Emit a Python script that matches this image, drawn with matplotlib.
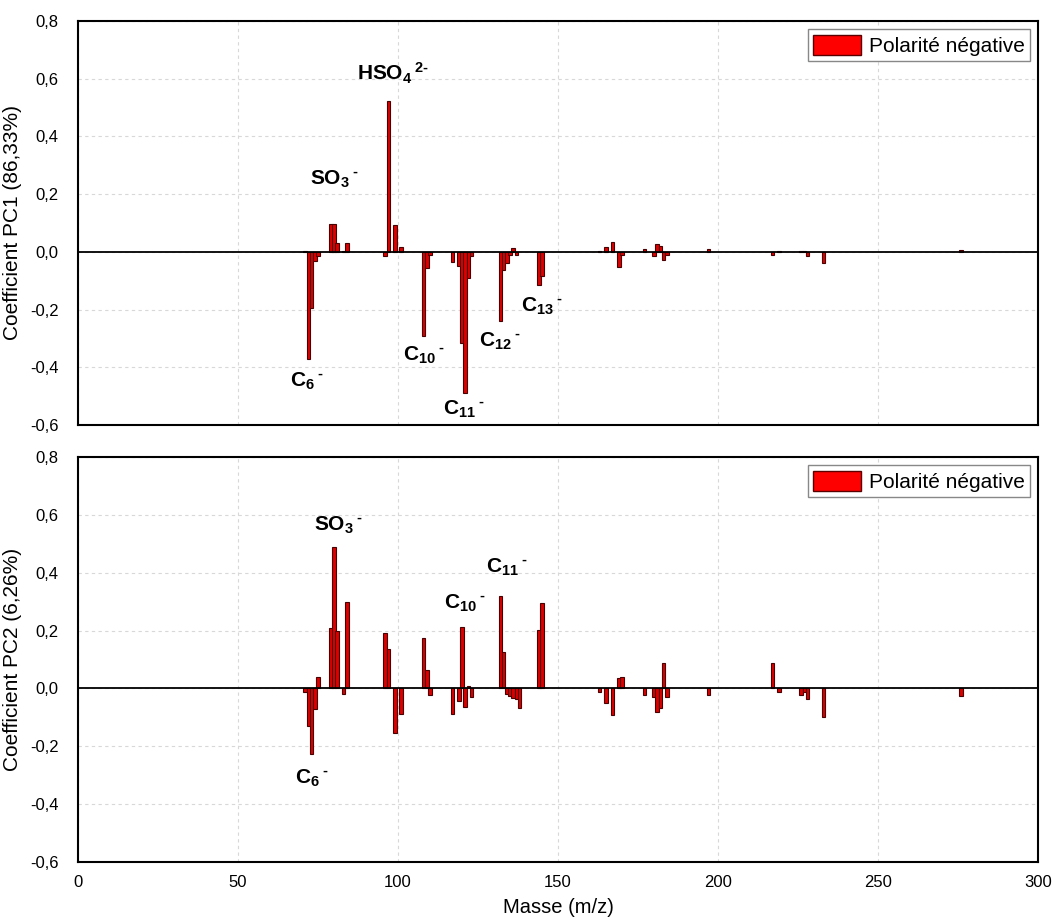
import numpy as np
import matplotlib
matplotlib.use("Agg")
import matplotlib.pyplot as plt
from matplotlib.ticker import MultipleLocator, FuncFormatter
from matplotlib.patches import Patch

plt.rcParams['font.family'] = ['Liberation Sans', 'DejaVu Sans']
plt.rcParams['mathtext.fontset'] = 'custom'
plt.rcParams['mathtext.bf'] = 'Liberation Sans:bold'
plt.rcParams['mathtext.rm'] = 'Liberation Sans:bold'
plt.rcParams['mathtext.default'] = 'bf'

# PC1 loadings (negative polarity)
mz1 = [71, 72, 73, 74, 75, 79, 80, 81, 83, 84, 96, 97, 99, 101,
       108, 109, 110, 117, 119, 120, 121, 122, 123,
       132, 133, 134, 135, 136, 137, 144, 145,
       163, 165, 167, 169, 170, 177, 180, 181, 182, 183, 184,
       197, 217, 219, 226, 227, 228, 233, 276]
pc1 = [0.003, -0.372, -0.196, -0.031, -0.013, 0.096, 0.096, 0.030, 0.003, 0.030,
       -0.016, 0.523, 0.094, 0.016,
       -0.292, -0.055, -0.010, -0.036, -0.050, -0.315, -0.488, -0.092, -0.016,
       -0.240, -0.064, -0.040, -0.012, 0.013, -0.012, -0.114, -0.082,
       0.002, 0.018, 0.034, -0.051, -0.010, 0.010, -0.015, 0.028, 0.020, -0.028, -0.012,
       0.010, -0.012, 0.002, 0.003, 0.003, -0.014, -0.040, 0.006]

# PC2 loadings
mz2 = [71, 72, 73, 74, 75, 79, 80, 81, 83, 84, 96, 97, 99, 101,
       108, 109, 110, 117, 119, 120, 121, 122, 123,
       132, 133, 134, 135, 136, 137, 138, 144, 145,
       163, 165, 167, 169, 170, 177, 180, 181, 182, 183, 184,
       197, 217, 219, 226, 227, 228, 233, 276]
pc2 = [-0.014, -0.129, -0.225, -0.072, 0.038, 0.208, 0.490, 0.198, -0.018, 0.298,
       0.190, 0.138, -0.154, -0.087,
       0.173, 0.063, -0.021, -0.087, -0.043, 0.212, -0.065, 0.009, -0.030,
       0.319, 0.127, -0.018, -0.027, -0.033, -0.038, -0.069, 0.202, 0.294,
       -0.012, -0.052, -0.092, 0.036, 0.039, -0.023, -0.029, -0.081, -0.069, 0.088, -0.031,
       -0.023, 0.089, -0.012, -0.022, -0.012, -0.038, -0.098, -0.027]

HY = '\u2010'  # short hyphen for the charge sign

def ion(base, sub, charge):
    return base + '$_{' + sub + '}\\,$$^{' + charge + '}$'

# peak labels: (text, m/z, value)
labels1 = [(ion('HSO', '4', '2' + HY), 98.5, 0.62),
           (ion('SO', '3', HY), 80.0, 0.25),
           (ion('C', '6', HY), 71.5, -0.45),
           (ion('C', '10', HY), 108.0, -0.36),
           (ion('C', '11', HY), 120.5, -0.545),
           (ion('C', '12', HY), 132.0, -0.31),
           (ion('C', '13', HY), 145.0, -0.19)]
labels2 = [(ion('SO', '3', HY), 81.5, 0.565),
           (ion('C', '6', HY), 73.0, -0.31),
           (ion('C', '10', HY), 121.0, 0.295),
           (ion('C', '11', HY), 134.0, 0.42)]

ylabels = ['Coefficient PC1 (86,33%)', 'Coefficient PC2 (6,26%)']

W, H = 1054, 922
fig = plt.figure(figsize=(W / 100, H / 100), dpi=100)
ax1 = fig.add_axes([78 / W, 1 - 425 / H, 960 / W, 404 / H])
ax2 = fig.add_axes([78 / W, 1 - 862 / H, 960 / W, 405 / H])

bar_fc = '#dc0000'
bar_ec = '#4a0000'

def comma(v, pos):
    v = round(v, 1) + 0.0
    return f'{v:.1f}'.replace('.', ',')

for ax, mz, vals, labs, yl in [(ax1, mz1, pc1, labels1, ylabels[0]),
                                (ax2, mz2, pc2, labels2, ylabels[1])]:
    ax.bar(mz, vals, width=1.15, color=bar_fc, edgecolor=bar_ec, linewidth=0.8, zorder=2)
    ax.axhline(0, color='black', lw=1.3, zorder=3)
    ax.set_xlim(0, 300)
    ax.set_ylim(-0.6, 0.8)
    ax.xaxis.set_major_locator(MultipleLocator(50))
    ax.yaxis.set_major_locator(MultipleLocator(0.2))
    ax.yaxis.set_major_formatter(FuncFormatter(comma))
    ax.grid(True, color='#d8d8d8', linestyle=(0, (3, 3)), linewidth=0.8, zorder=0)
    ax.set_axisbelow(True)
    ax.tick_params(length=0, labelsize=12, pad=14)
    ax.tick_params(axis='x', pad=9)
    for s in ax.spines.values():
        s.set_linewidth(1.5)
        s.set_color('black')
    ax.set_ylabel(yl, fontsize=15, family=['Liberation Sans Narrow', 'Liberation Sans'],
                  labelpad=8)
    for txt, x, y in labs:
        ax.text(x, y, txt, fontsize=15, fontweight='bold', ha='center', va='center', zorder=4)
    leg = ax.legend(handles=[Patch(facecolor='#ff0000', edgecolor='#5a0000', linewidth=1.0,
                                   label='Polarité négative')],
                    loc='upper right', fontsize=15, frameon=True, fancybox=False,
                    edgecolor='#888888', framealpha=1, borderaxespad=0.4,
                    handlelength=2.3, handleheight=1.1, handletextpad=0.35,
                    borderpad=0.25)
    leg.get_frame().set_linewidth(1.0)

ax1.tick_params(axis='x', labelbottom=False)
ax2.set_xlabel('Masse (m/z)', fontsize=14.5, labelpad=6)
ax1.yaxis.set_label_coords(-0.0585, 0.5)
ax2.yaxis.set_label_coords(-0.0585, 0.5)

fig.savefig('out.png', dpi=100)
